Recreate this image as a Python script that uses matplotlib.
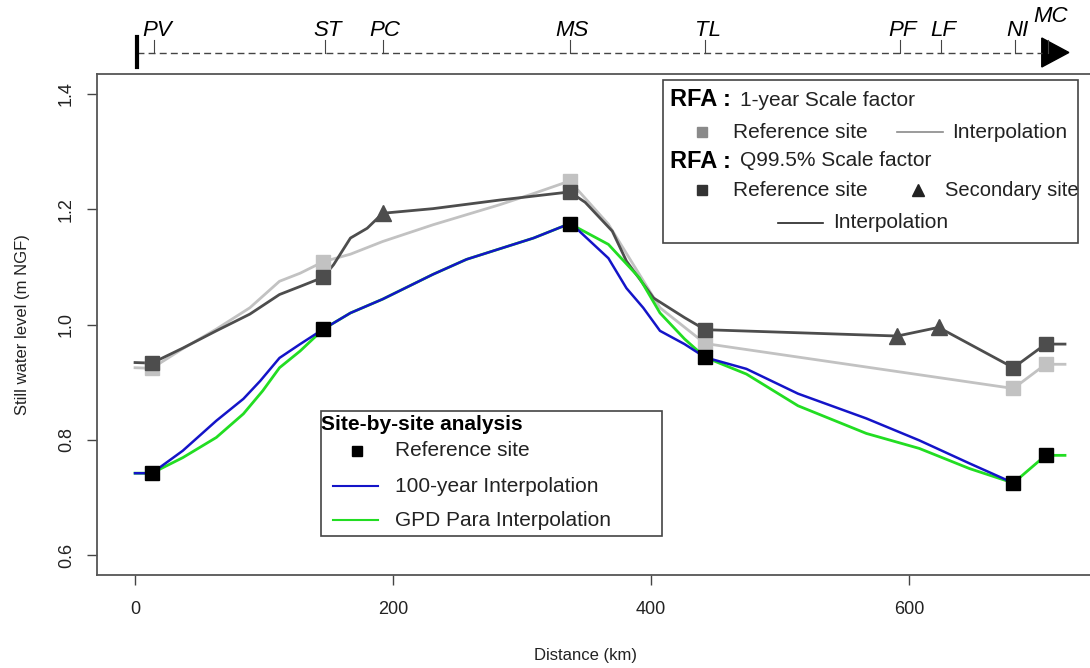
import matplotlib
matplotlib.use("Agg")
import matplotlib.pyplot as plt
from matplotlib.patches import Rectangle, Polygon

plt.rcParams['font.family'] = ['Liberation Sans', 'DejaVu Sans']

# sites along the coast (km)
site_names = ["PV", "ST", "PC", "MS", "TL", "PF", "LF", "NI", "MC"]
site_km = [15, 147, 192, 337, 442, 593, 625, 682, 708]

# reference sites
ref_km = [13, 146, 337, 442, 681, 706]
ssa_ref = [0.742, 0.992, 1.175, 0.943, 0.725, 0.773]
q995_ref = [0.933, 1.082, 1.230, 0.991, 0.925, 0.966]
one_year_ref = [0.924, 1.109, 1.249, 0.967, 0.889, 0.931]

# secondary sites
sec_km = [192, 591, 623]
q995_sec = [1.193, 0.980, 0.995]

# interpolation curves
q995_line_km = [0, 13, 37, 63, 89, 112, 128, 146, 154, 167, 180, 192, 231, 283,
                337, 349, 370, 381, 402, 426, 442, 591, 623, 681, 706, 721]
q995_line = [0.934, 0.933, 0.959, 0.989, 1.018, 1.052, 1.066, 1.082, 1.104, 1.150,
             1.167, 1.193, 1.201, 1.216, 1.230, 1.212, 1.162, 1.110, 1.046, 1.012,
             0.991, 0.980, 0.995, 0.925, 0.966, 0.966]

one_year_line_km = [0, 13, 37, 63, 89, 112, 128, 146, 167, 192, 231, 283, 310, 337,
                    367, 391, 407, 442, 681, 706, 721]
one_year_line = [0.925, 0.924, 0.958, 0.992, 1.029, 1.075, 1.089, 1.109, 1.122, 1.144,
                 1.173, 1.208, 1.228, 1.249, 1.174, 1.087, 1.029, 0.967, 0.889, 0.931,
                 0.931]

ret100_km = [0, 13, 37, 63, 84, 97, 112, 128, 146, 167, 192, 231, 257, 309, 337, 343,
             367, 381, 394, 407, 426, 442, 474, 514, 567, 608, 647, 681]
ret100 = [0.742, 0.742, 0.781, 0.833, 0.871, 0.902, 0.942, 0.966, 0.992, 1.020, 1.044,
          1.087, 1.113, 1.150, 1.175, 1.165, 1.115, 1.063, 1.029, 0.989, 0.966, 0.943,
          0.923, 0.880, 0.837, 0.799, 0.759, 0.725]

gpd_km = [0, 13, 37, 63, 84, 99, 112, 128, 146, 167, 192, 231, 257, 309, 337, 367, 391,
          407, 426, 442, 474, 514, 567, 608, 647, 681, 706, 721]
gpd = [0.742, 0.742, 0.769, 0.804, 0.845, 0.885, 0.925, 0.954, 0.992, 1.020, 1.044,
       1.087, 1.113, 1.150, 1.175, 1.139, 1.081, 1.020, 0.975, 0.943, 0.914, 0.859,
       0.811, 0.785, 0.750, 0.725, 0.773, 0.773]

W, H = 1090, 668
fig = plt.figure(figsize=(W / 100, H / 100), dpi=100)

# main axes (right side runs past the picture edge)
ax = fig.add_axes([97 / W, 93 / H, 1017 / W, 501 / H])
xlim = (-29.5, 759)
ax.set_xlim(*xlim)
ax.set_ylim(0.5654, 1.4346)

dark = "#4d4d4d"
light = "#c2c2c2"
ax.plot(one_year_line_km, one_year_line, color=light, lw=2, zorder=2)
ax.plot(q995_line_km, q995_line, color=dark, lw=2, zorder=3)
ax.plot(ref_km, one_year_ref, ls="none", marker="s", ms=10, color=light, zorder=4)
ax.plot(ref_km, q995_ref, ls="none", marker="s", ms=10, color=dark, zorder=5)
ax.plot(sec_km, q995_sec, ls="none", marker="^", ms=11, color=dark, zorder=5)
ax.plot(gpd_km, gpd, color="#22dd22", lw=2, zorder=6)
ax.plot(ret100_km, ret100, color="#1414c8", lw=1.8, zorder=7)
ax.plot(ref_km, ssa_ref, ls="none", marker="s", ms=10, color="black", zorder=8)

for side in ["left", "bottom", "top", "right"]:
    ax.spines[side].set_color("#555555")
    ax.spines[side].set_linewidth(1.3)

ax.set_xticks([0, 200, 400, 600])
ax.set_yticks([0.6, 0.8, 1.0, 1.2, 1.4])
ax.set_yticklabels(["0.6", "0.8", "1.0", "1.2", "1.4"], rotation=90, va="center")
ax.tick_params(axis="both", length=7, width=1, color="#444444",
               labelsize=13, labelcolor="#222222")
ax.tick_params(axis="x", pad=12)
ax.tick_params(axis="y", pad=9)
ax.set_xlabel("Distance (km)", fontsize=12, color="#222222")
ax.xaxis.set_label_coords(0.48, -0.145)
ax.set_ylabel("Still water level (m NGF)", fontsize=12, color="#222222")
ax.yaxis.set_label_coords(-0.066, 0.5)

tr = ax.transAxes


def fx(px):
    return (px - 97) / 1017


def fy(py):
    return (H - py - 93) / 501


def legend_text(x, y, s, **kw):
    opts = dict(transform=tr, fontsize=15, va="center", ha="left", zorder=11,
                color="#222222")
    opts.update(kw)
    ax.text(fx(x), fy(y), s, **opts)


# legend: RFA
ax.add_patch(Rectangle((fx(663), fy(243)), fx(1078) - fx(663), fy(80) - fy(243),
                       transform=tr, facecolor="white", edgecolor="#444444",
                       lw=1.2, zorder=10))
legend_text(670, 100, "RFA :", fontweight="bold", color="black", fontsize=17)
legend_text(740, 100, "1-year Scale factor")
ax.plot([fx(702)], [fy(132)], transform=tr, marker="s", ms=7, color="#8a8a8a", zorder=11)
legend_text(733, 132, "Reference site")
ax.plot([fx(897), fx(943)], [fy(132), fy(132)], transform=tr, color="#8a8a8a",
        lw=1.2, zorder=11)
legend_text(952, 132, "Interpolation")
legend_text(670, 161, "RFA :", fontweight="bold", color="black", fontsize=17)
legend_text(740, 161, "Q99.5% Scale factor")
ax.plot([fx(702)], [fy(190)], transform=tr, marker="s", ms=7, color="#333333", zorder=11)
legend_text(733, 190, "Reference site")
ax.plot([fx(918)], [fy(190)], transform=tr, marker="^", ms=8, color="#222222", zorder=11)
legend_text(945, 190, "Secondary site", fontsize=14.5)
ax.plot([fx(778), fx(823)], [fy(223), fy(223)], transform=tr, color="#222222",
        lw=1.2, zorder=11)
legend_text(833, 223, "Interpolation")

# legend: site-by-site
ax.add_patch(Rectangle((fx(321), fy(536)), fx(662) - fx(321), fy(411) - fy(536),
                       transform=tr, facecolor="white", edgecolor="#444444",
                       lw=1.2, zorder=10))
legend_text(321, 424, "Site-by-site analysis", fontweight="bold", color="black")
ax.plot([fx(357)], [fy(451)], transform=tr, marker="s", ms=7, color="black", zorder=11)
legend_text(395, 451, "Reference site")
ax.plot([fx(333), fx(378)], [fy(486), fy(486)], transform=tr, color="#1414c8",
        lw=1.5, zorder=11)
legend_text(395, 486, "100-year Interpolation")
ax.plot([fx(333), fx(378)], [fy(520), fy(520)], transform=tr, color="#22dd22",
        lw=1.5, zorder=11)
legend_text(395, 520, "GPD Para Interpolation")

# top strip with site positions
top = fig.add_axes([97 / W, (H - 72) / H, 1017 / W, 64 / H])
top.set_xlim(*xlim)
top.set_ylim(0, 1)
top.axis("off")


def sy(py):
    return (72 - py) / 64


top.plot([1.5, 703], [sy(53), sy(53)], color="#444444", lw=1, ls=(0, (5, 3)))
top.plot([1.5, 1.5], [sy(37), sy(67)], color="black", lw=3)
top.add_patch(Polygon([[703, sy(38)], [703, sy(67)], [724, sy(52.5)]],
                      closed=True, color="black"))
for name, km in zip(site_names, site_km):
    top.plot([km, km], [sy(53), sy(40)], color="#444444", lw=0.8)
    ty = sy(17) if name == "MC" else sy(31)
    top.text(km + 2, ty, name, ha="center", va="center", fontsize=16, style="italic")

fig.savefig("out.png", dpi=100)
